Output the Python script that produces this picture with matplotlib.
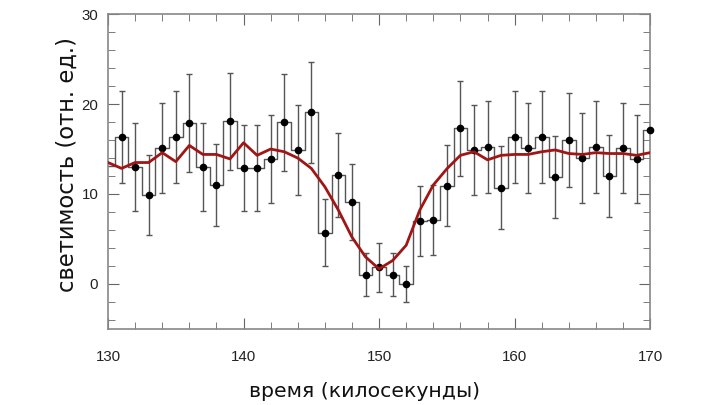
import matplotlib.pyplot as plt
from matplotlib.ticker import MultipleLocator

# time bins (kiloseconds)
time = list(range(130, 171))

# measured luminosity per bin
flux = [13.1, 16.3, 13.0, 9.85, 15.1, 16.3, 17.9, 13.0, 11.0, 18.1,
        12.9, 12.9, 13.9, 18.0, 14.9, 19.1, 5.7, 12.1, 9.1, 1.0,
        1.85, 1.0, 0.0, 7.0, 7.1, 10.9, 17.3, 14.9, 15.2, 10.7,
        16.3, 15.1, 16.3, 11.9, 16.0, 14.0, 15.2, 12.0, 15.1, 13.9,
        17.1]

# 1-sigma errors
flux_err = [5.0, 5.1, 4.9, 4.45, 5.0, 5.1, 5.4, 4.9, 4.6, 5.4,
            4.8, 4.8, 4.9, 5.4, 5.0, 5.6, 3.7, 4.7, 4.2, 2.4,
            2.7, 2.4, 2.0, 3.85, 3.9, 4.5, 5.3, 5.0, 5.1, 4.6,
            5.1, 5.0, 5.1, 4.6, 5.2, 5.0, 5.1, 4.6, 5.0, 4.9,
            5.2]

# model curve
model = [13.5, 12.85, 13.5, 13.5, 14.6, 13.6, 15.4, 14.4, 14.4, 13.9,
         15.7, 14.3, 15.0, 14.7, 14.0, 12.85, 10.8, 8.2, 5.2, 3.0,
         1.67, 2.6, 4.3, 8.2, 11.0, 12.8, 14.3, 14.7, 13.8, 14.3,
         14.4, 14.4, 14.7, 14.9, 14.5, 14.4, 14.6, 14.5, 14.5, 14.3,
         14.6]

fig = plt.figure(figsize=(7.2, 4.05), dpi=100)
ax = fig.add_axes([0.15, 0.188, 0.753, 0.777])

ax.step(time, flux, where="mid", color="#555555", lw=1.0, zorder=2)
# first bin has no visible point, last one sits on the frame
ax.errorbar(time[1:-1], flux[1:-1], yerr=flux_err[1:-1], fmt="o",
            color="black", ms=4.5, ecolor="#555555", elinewidth=1.0,
            capsize=2.5, capthick=1.0, zorder=3)
ax.plot(time[-1:], flux[-1:], "o", color="black", ms=4.5, zorder=5,
        clip_on=False)
ax.plot(time, model, color="#a01515", lw=2.0, zorder=4)

ax.set_xlim(130, 170)
ax.set_ylim(-5, 30)
ax.xaxis.set_major_locator(MultipleLocator(10))
ax.xaxis.set_minor_locator(MultipleLocator(2))
ax.yaxis.set_major_locator(MultipleLocator(10))
ax.yaxis.set_minor_locator(MultipleLocator(2))
ax.tick_params(which="both", direction="in", top=True, right=True,
               color="#666666")
ax.tick_params(which="major", length=8)
ax.tick_params(which="minor", length=5)
ax.tick_params(axis="x", which="major", pad=15)
ax.tick_params(axis="y", which="major", pad=7)
for lab in ax.get_xticklabels() + ax.get_yticklabels():
    lab.set_fontfamily("Liberation Sans")
    lab.set_fontsize(10.8)
    lab.set_color("#222222")
for s in ax.spines.values():
    s.set_color("#888888")
    s.set_linewidth(1.2)

ax.set_xlabel("время (килосекунды)", fontsize=14.7,
              family="DejaVu Sans", color="#111111", va="center")
ax.set_ylabel("светимость (отн. ед.)", fontsize=16.3,
              family="DejaVu Sans", color="#111111", va="center")
ax.xaxis.set_label_coords(0.474, -0.2)
ax.yaxis.set_label_coords(-0.075, 0.522)

fig.savefig("out.png", dpi=100)
